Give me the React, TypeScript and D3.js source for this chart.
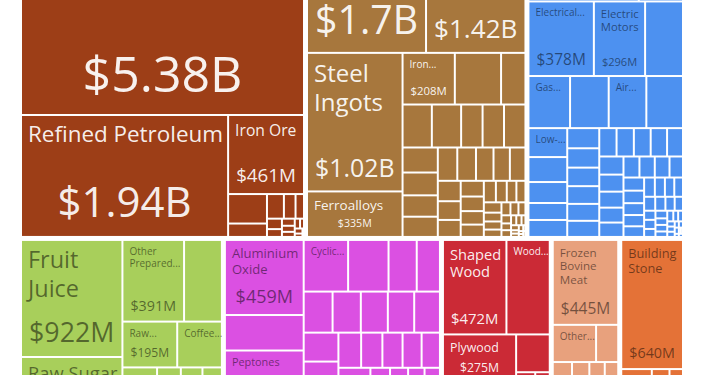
import * as d3 from 'd3';
import React, { useMemo } from 'react';

const W = 710;
const H = 375;
// the picture is a window onto a taller treemap: its top and bottom are cut off
const mapLeft = 22;
const mapTop = -131.5;
const mapWidth = 660;
const mapHeight = 570;
const FONT = '"Open Sans", sans-serif';
const LINE = 1.2;

const categoryNames = [
  'Mineral Products',
  'Metals',
  'Machines',
  'Vegetable Products',
  'Chemical Products',
  'Wood Products',
  'Animal Products',
  'Stone And Glass',
];
const categoryColors = ['#9D3E17', '#A7773D', '#4D91F0', '#A8CF5B', '#DB50E2', '#CB2A36', '#E8A17D', '#E47237'];
const categoryRow = [0, 0, 0, 1, 1, 1, 1, 1];
const categoryLightText = [true, true, false, false, false, true, false, false];

// product values in $M, largest first; unnamed products are the small unlabeled tiles
const mineralNames = ['Crude Petroleum', 'Refined Petroleum', 'Iron Ore'];
const mineralValues = [5380, 1940, 461, 88, 40, 32, 22, 16, 12, 9, 7, 6, 5, 4, 3, 3, 2, 1];

const metalNames = ['Semi-Finished Iron', 'Hot-Rolled Iron', 'Steel Ingots', 'Ferroalloys', 'Iron Reductions'];
const metalValues = [
  1700, 1420, 1020, 335, 208, 184, 97, 97, 97, 71, 71, 71, 68, 62, 58, 55, 50, 48, 45, 42, 40, 36, 33, 30, 28,
  26, 24, 22, 20, 18, 16, 15, 14, 12, 11, 10, 9, 8, 7, 6, 5, 5, 4, 4, 3, 3, 2, 2, 2, 1, 1, 1, 1,
];

const machineNames = [
  'Computers',
  'Broadcasting Equipment',
  'Electrical Transformers',
  'Electric Motors',
  '',
  'Gas Turbines',
  '',
  'Air Pumps',
  '',
  'Low-voltage Protection Equipment',
];
const machineValues = [
  1145, 459, 378, 296, 219, 168, 156, 152, 148, 87, 75, 63, 51, 51, 50, 48, 46, 44, 42, 40, 38, 38, 37, 36, 35,
  34, 32, 30, 28, 27, 26, 25, 24, 22, 21, 20, 19, 18, 17, 16, 15, 14, 13, 12, 11, 10, 9, 8, 8, 7, 7, 6, 6, 5,
  5, 4, 4, 3, 3, 3, 2, 2, 2, 1, 1, 1, 1,
];

const vegetableNames = ['Fruit Juice', 'Raw Sugar', 'Other Prepared Vegetables', '', 'Raw Tobacco', 'Coffee and Tea Extracts'];
const vegetableValues = [922, 650, 391, 240, 195, 159, 70, 64, 60, 55, 50, 45, 40, 35, 30, 25, 20, 16, 13, 10, 8, 6, 4, 3, 2, 1];

const chemicalNames = ['Aluminium Oxide', '', 'Peptones', '', '', 'Cyclic Hydrocarbons'];
const chemicalValues = [
  459, 217, 183, 181, 180, 178, 162, 113, 93, 92, 90, 86, 84, 82, 78, 74, 70, 66, 62, 58, 55, 52, 50, 49, 46,
  43, 40, 37, 34, 31, 29, 27, 25, 23, 21, 19, 17, 15, 13, 12, 11, 10, 9, 8, 7, 6, 5, 5, 4, 4, 3, 3, 2, 2, 2, 1,
  1, 1,
];

const woodNames = ['Shaped Wood', 'Wood Fiberboard', 'Plywood'];
const woodValues = [472, 322, 275, 170, 160, 100, 50, 38, 28, 20, 15, 11, 8, 5, 3];

const animalNames = ['Frozen Bovine Meat', 'Other Meat'];
const animalValues = [445, 129, 66, 50, 45, 40, 35, 30, 28, 25, 22, 20, 18, 16, 14, 12, 10, 9, 8, 6, 5, 4, 3, 2, 2, 1, 1];

const stoneNames = ['Building Stone'];
const stoneValues = [640, 95, 55, 42, 30, 28, 24, 20, 16, 13, 10, 7, 5, 3, 1];

const productNames = [mineralNames, metalNames, machineNames, vegetableNames, chemicalNames, woodNames, animalNames, stoneNames];
const productValues = [mineralValues, metalValues, machineValues, vegetableValues, chemicalValues, woodValues, animalValues, stoneValues];

interface Datum {
  name: string;
  value?: number;
  cat?: number;
  row?: number;
  children?: Datum[];
}

const canvas = document.createElement('canvas');
const ctx = canvas.getContext('2d')!;
const textWidth = (t: string, fs: number) => {
  ctx.font = `${fs}px ${FONT}`;
  return ctx.measureText(t).width;
};

const formatValue = (v: number) =>
  v >= 1000 ? `$${d3.format('.3~r')(v / 1000)}B` : `$${d3.format('.3~r')(v)}M`;

type Token = { t: string; sep: string };
const tokenize = (name: string): Token[] => {
  const out: Token[] = [];
  name.split(' ').forEach((word) => {
    const parts = word.split(/(?<=-)/);
    parts.forEach((p, i) => out.push({ t: p, sep: i < parts.length - 1 ? '' : ' ' }));
  });
  return out;
};

const wrap = (tokens: Token[], fs: number, maxW: number, maxLines: number) => {
  const lines: string[] = [];
  let cur = '';
  let sep = '';
  for (const tk of tokens) {
    const cand = cur ? cur + sep + tk.t : tk.t;
    if (textWidth(cand, fs) <= maxW) {
      cur = cand;
    } else {
      if (!cur) return { lines, done: false };
      lines.push(cur);
      if (lines.length >= maxLines) return { lines, done: false };
      if (textWidth(tk.t, fs) > maxW) return { lines, done: false };
      cur = tk.t;
    }
    sep = tk.sep;
  }
  if (cur) lines.push(cur);
  return { lines, done: true };
};

const layoutName = (name: string, w: number, h: number) => {
  if (!name || w < 28 || h < 18) return null;
  const tokens = tokenize(name);
  const maxW = w - 10;
  const maxH = h * 0.5;
  const cap = Math.max(10, Math.min(24, 8 + 0.00135 * w * h));
  // a single line is kept when it is nearly as large as the wrapped text could be
  const single = Math.min(cap, maxW / (textWidth(name, 100) / 100), maxH / 1.15);
  if (single >= 0.85 * cap && single >= 10) return { fs: single, lines: [name] };
  for (let fs = cap; fs >= 10; fs -= 0.5) {
    const maxLines = Math.floor(maxH / (fs * 1.15));
    if (maxLines < 1) continue;
    const r = wrap(tokens, fs, maxW, maxLines);
    if (r.done) return { fs, lines: r.lines };
  }
  const fs = 10;
  const maxLines = Math.floor(maxH / (fs * 1.15));
  if (maxLines < 1) return null;
  const r = wrap(tokens, fs, maxW, maxLines);
  if (!r.lines.length) return null;
  const lines = r.lines.slice();
  lines[lines.length - 1] += '...';
  return { fs, lines };
};

const layoutValue = (text: string, w: number, h: number, nameH: number) => {
  if (w < 45) return null;
  const avail = h - nameH - 4;
  if (avail < 20) return null;
  const fs = Math.min(50, (w - 14) / (textWidth(text, 100) / 100), 0.47 * avail);
  return fs < 10 ? null : fs;
};

// categories are laid out in rows, products inside each category are squarified
const rowTile = (node: any, x0: number, y0: number, x1: number, y1: number) => {
  if (node.depth > 0) {
    d3.treemapSquarify(node, x0, y0, x1, y1);
    return;
  }
  const rows = d3.groups(node.children, (c: any) => c.data.row);
  let y = y0;
  rows.forEach(([, kids]) => {
    const v = d3.sum(kids as any[], (k: any) => k.value);
    const yNext = y + ((y1 - y0) * v) / node.value;
    d3.treemapDice({ children: kids, value: v } as any, x0, y, x1, yNext);
    y = yNext;
  });
};

export default function App() {
  const leaves = useMemo(() => {
    const data: Datum = {
      name: 'root',
      children: categoryNames.map((c, i) => ({
        name: c,
        cat: i,
        row: categoryRow[i],
        children: productValues[i].map((v, j) => ({ name: productNames[i][j] ?? '', value: v, cat: i })),
      })),
    };
    const root = d3
      .hierarchy<Datum>(data)
      .sum((d) => d.value ?? 0)
      .sort((a, b) => (a.depth === 1 ? 0 : (b.value ?? 0) - (a.value ?? 0)));
    d3
      .treemap<Datum>()
      .tile(rowTile as any)
      .size([mapWidth, mapHeight])
      .paddingInner((n) => (n.depth === 0 ? 5 : 2))(root);
    return (root.leaves() as d3.HierarchyRectangularNode<Datum>[]).map((l) => {
      const w = l.x1 - l.x0;
      const h = l.y1 - l.y0;
      const name = layoutName(l.data.name, w, h);
      const valueText = formatValue(l.data.value ?? 0);
      const nameH = name ? 2 + name.lines.length * name.fs * 1.1 : 0;
      const valueFs = name ? layoutValue(valueText, w, h, nameH) : null;
      return { l, w, h, name, valueText, valueFs, cat: l.data.cat ?? 0 };
    });
  }, []);

  // texts lying wholly above the visible window are not drawn
  const visible = (baseline: number) => baseline + mapTop > 0;

  return (
    <svg
      width={W}
      height={H}
      style={{ position: 'absolute', left: 0, top: 0, background: '#fff' }}
      fontFamily={FONT}
    >
      <g transform={`translate(${mapLeft},${mapTop})`}>
        {leaves.map(({ l, w, h }, i) => (
          <rect key={`r${i}`} x={l.x0} y={l.y0} width={w} height={h} fill={categoryColors[l.data.cat ?? 0]} />
        ))}
        {leaves.map(({ l, name, valueText, valueFs, cat }, i) => {
          const light = categoryLightText[cat];
          const fill = light ? '#ffffff' : '#000000';
          const opacity = light ? 0.93 : 0.5;
          const valueY = valueFs ? l.y1 - 5 - valueFs * 0.33 : 0;
          return (
            <g key={`t${i}`} fill={fill} fillOpacity={opacity}>
              {name &&
                name.lines.map((line, k) => {
                  const y = l.y0 + 4 + name.fs + k * name.fs * LINE;
                  return visible(y) ? (
                    <text key={k} x={l.x0 + 6} y={y} fontSize={name.fs}>
                      {line}
                    </text>
                  ) : null;
                })}
              {valueFs && visible(valueY) && (
                <text x={(l.x0 + l.x1) / 2} y={valueY} fontSize={valueFs} textAnchor="middle">
                  {valueText}
                </text>
              )}
            </g>
          );
        })}
      </g>
    </svg>
  );
}
